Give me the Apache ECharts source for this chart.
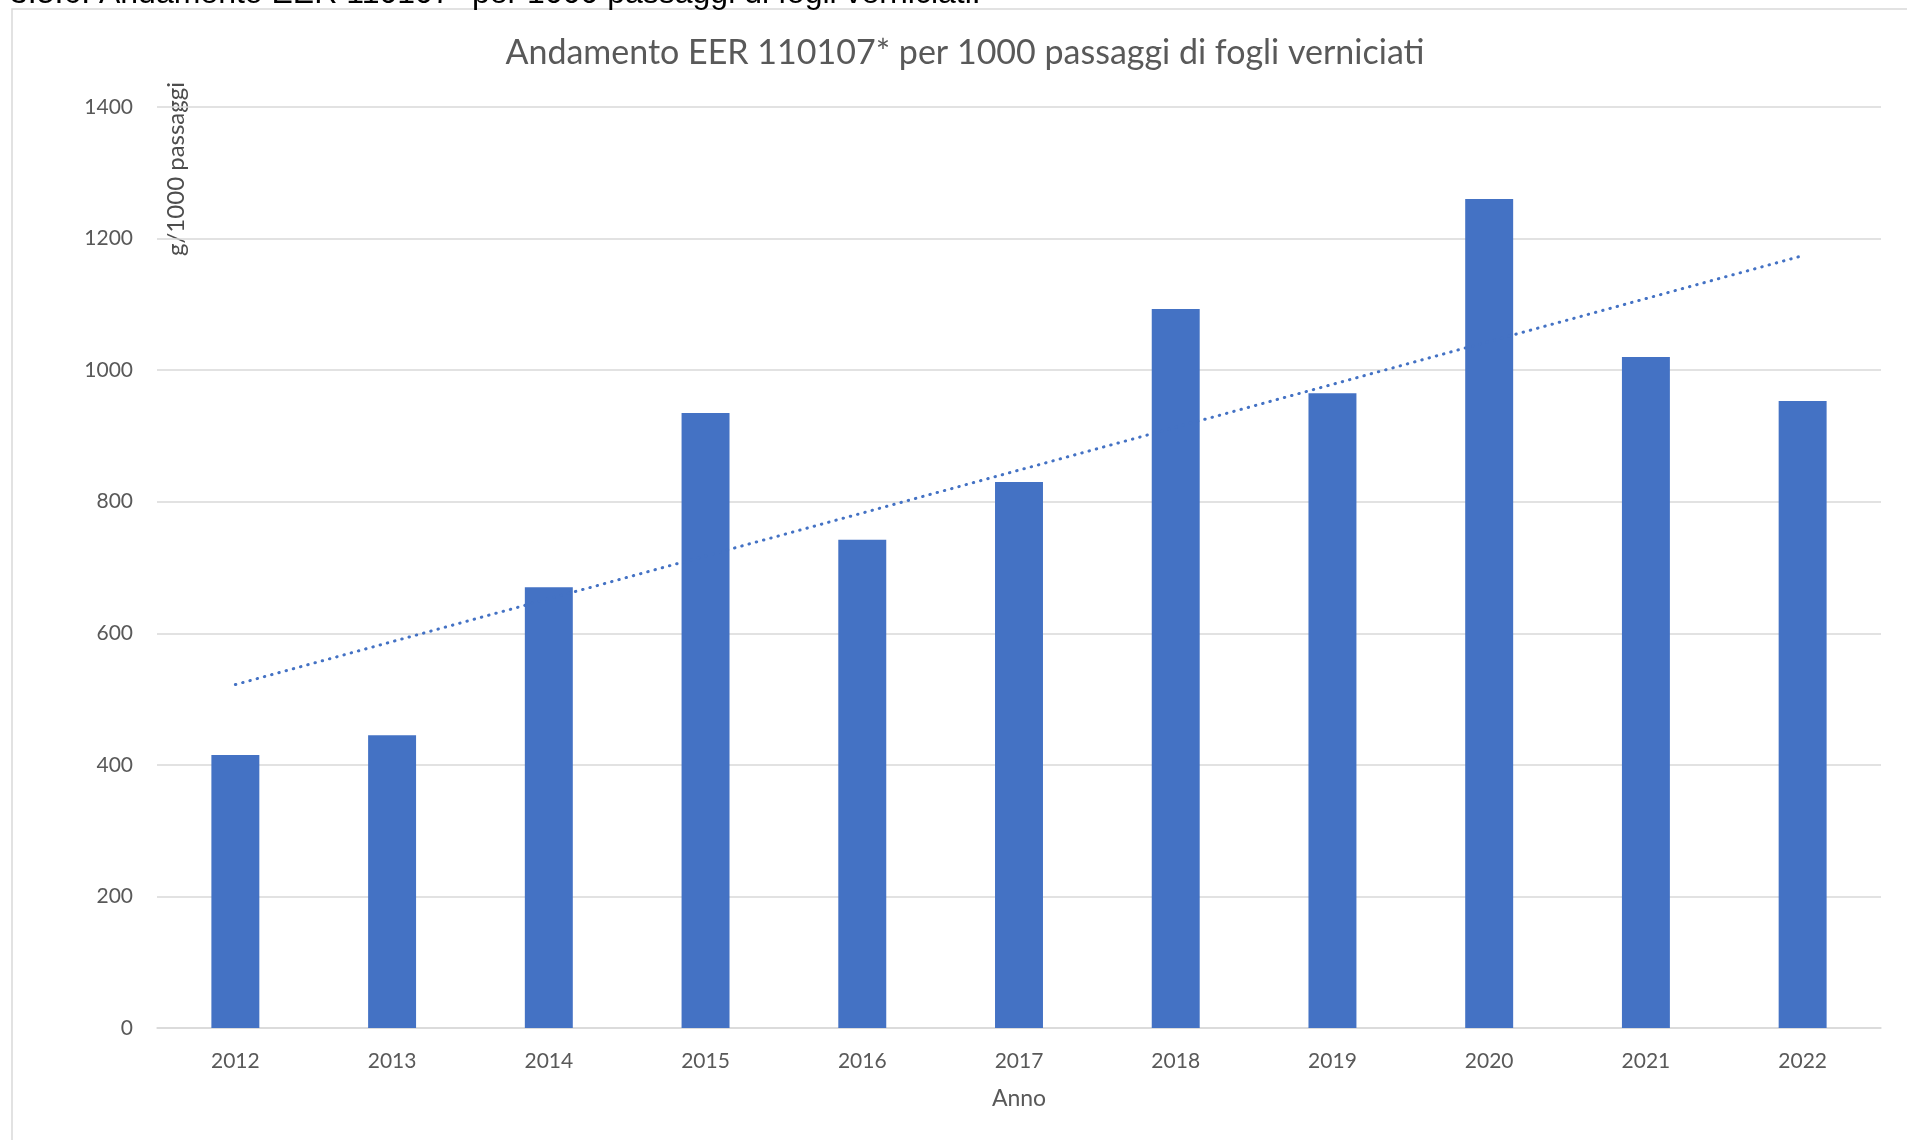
<!DOCTYPE html>
<html>
<head>
<meta charset="utf-8">
<style>
  html, body { margin: 0; padding: 0; background: #ffffff; }
  #chart { width: 1907px; height: 1140px; }
</style>
<script src="https://cdn.jsdelivr.net/npm/echarts@6/dist/echarts.min.js"></script>
</head>
<body>
<div id="chart"></div>
<script>
const categories = ['2012','2013','2014','2015','2016','2017','2018','2019','2020','2021','2022'];
const values = [415, 445, 670, 935, 742, 830, 1093, 965, 1260, 1020, 953];
const yTicks = [0, 200, 400, 600, 800, 1000, 1200, 1400];

// Linear trendline (least squares) derived from the bar values
function linearTrend(v) {
  const n = v.length;
  let sx = 0, sy = 0, sxy = 0, sxx = 0;
  v.forEach((y, i) => { sx += i; sy += y; sxy += i * y; sxx += i * i; });
  const b = (n * sxy - sx * sy) / (n * sxx - sx * sx);
  const a = (sy - b * sx) / n;
  return v.map((_, i) => a + b * i);
}
const trend = linearTrend(values);

const chart = echarts.init(document.getElementById('chart'));
const labelFont = 'Lato, "Open Sans", sans-serif';
chart.setOption({
  animation: false,
  backgroundColor: '#ffffff',
  title: {
    text: 'Andamento EER 110107* per 1000 passaggi di fogli verniciati',
    left: 960,
    textAlign: 'center',
    top: 31,
    textStyle: { fontFamily: labelFont, fontSize: 34, fontWeight: 'normal', color: '#595959' }
  },
  grid: { left: 157, right: 26, top: 107, bottom: 112 },
  xAxis: {
    type: 'category',
    data: categories,
    name: 'Anno',
    nameLocation: 'middle',
    nameGap: 59,
    nameTextStyle: { fontFamily: labelFont, fontSize: 23, color: '#595959' },
    axisLine: { lineStyle: { color: '#d9d9d9', width: 1.5 } },
    axisTick: { show: false },
    axisLabel: { fontFamily: labelFont, fontSize: 21, color: '#595959', margin: 23 }
  },
  yAxis: {
    type: 'value',
    min: 0,
    max: 1400,
    interval: 200,
    axisLine: { show: false },
    axisTick: { show: false },
    splitLine: { lineStyle: { color: '#d9d9d9', width: 1.5 } },
    axisLabel: {
      fontFamily: labelFont, fontSize: 21, color: '#595959', margin: 24,
      formatter: v => (yTicks.indexOf(v) >= 0 ? String(v) : '')
    }
  },
  graphic: [
    {
      type: 'rect',
      shape: { x: 12, y: 9, width: 1960, height: 1200 },
      style: { fill: 'none', stroke: '#d9d9d9', lineWidth: 1.5 },
      silent: true
    },
    {
      type: 'text',
      x: 10, y: 10,
      style: {
        text: '3.5.6. Andamento EER 110107* per 1000 passaggi di fogli verniciati.',
        font: '32px "Liberation Sans", Arial, sans-serif',
        fill: '#000000',
        verticalAlign: 'bottom',
        align: 'left'
      },
      silent: true
    },
    {
      type: 'text',
      x: 176, y: 169,
      rotation: Math.PI / 2,
      style: {
        text: 'g/1000 passaggi',
        font: '24px Lato, "Open Sans", sans-serif',
        fill: '#4d4d4d',
        align: 'center',
        verticalAlign: 'middle'
      },
      silent: true
    }
  ],
  series: [
    {
      type: 'bar',
      data: values,
      barWidth: '30.6%',
      itemStyle: { color: '#4472C4' }
    },
    {
      type: 'line',
      data: trend,
      symbol: 'none',
      z: 5,
      lineStyle: { color: '#4472C4', width: 3, type: [0.5, 7], cap: 'round' }
    }
  ]
});
</script>
</body>
</html>
